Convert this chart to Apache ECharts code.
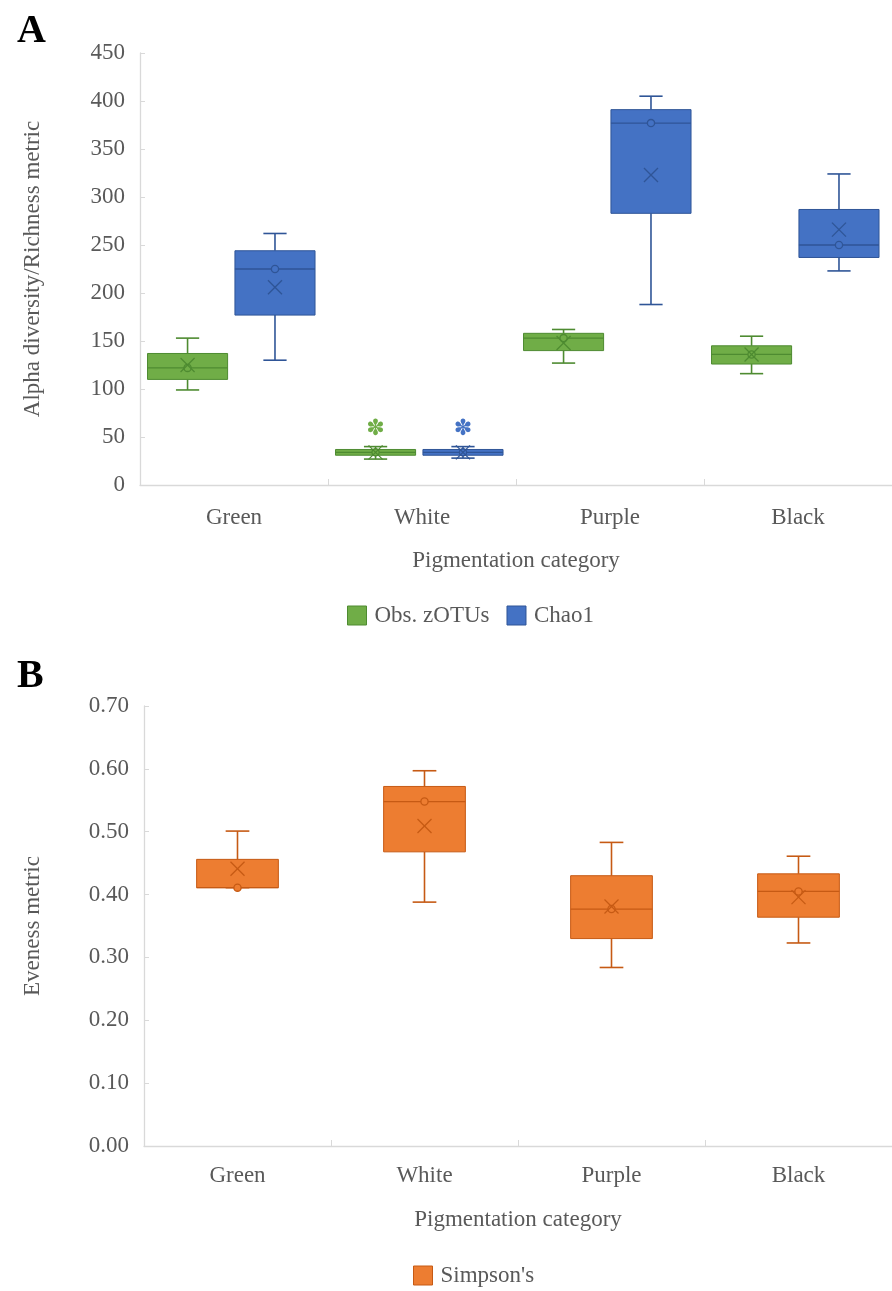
<!DOCTYPE html>
<html>
<head>
<meta charset="utf-8">
<script src="https://cdn.jsdelivr.net/npm/echarts@6/dist/echarts.min.js"></script>
<style>
  html, body { margin: 0; padding: 0; background: #fff; }
  #chart { width: 892px; height: 1291px; }
</style>
</head>
<body>
<div id="chart"></div>
<script>
// Pigmentation groups
const categories = ['Green', 'White', 'Purple', 'Black'];

// Richness: [min, Q1, median, Q3, max] per group
const obsBox = [[99, 110, 122, 137, 153], [27, 31, 34, 37, 40], [127, 140, 153, 158, 162], [116, 126, 136, 145, 155]];
const obsMean = [125, 34, 148, 136];
const obsPoint = [122, 34, 153, 136];
const chaoBox = [[130, 177, 225, 244, 262], [28, 31, 34, 37, 40], [188, 283, 377, 391, 405], [223, 237, 250, 287, 324]];
const chaoMean = [206, 34, 323, 266];
const chaoPoint = [225, 34, 377, 250];
const obsSig = ['', '✽', '', ''];
const chaoSig = ['', '✽', '', ''];

// Evenness: [min, Q1, median, Q3, max] per group
const simpsonBox = [[0.411, 0.411, 0.411, 0.456, 0.501], [0.388, 0.468, 0.548, 0.572, 0.597], [0.284, 0.330, 0.377, 0.430, 0.483], [0.323, 0.364, 0.405, 0.433, 0.461]];
const simpsonMean = [0.441, 0.509, 0.381, 0.396];
const simpsonPoint = [0.411, 0.548, 0.377, 0.405];
const simpsonSig = ['', '', '', ''];

// Value axis ranges
const richnessAxis = { min: 0, max: 450, interval: 50 };
const evennessAxis = { min: 0, max: 0.7, interval: 0.1 };

const FONT = '"Liberation Serif", "Times New Roman", serif';
const FS = 23;
const TXT = '#595959';
const GREEN = '#70AD47', GREEN_D = '#4E8B31';
const BLUE = '#4472C4', BLUE_D = '#2F5597';
const ORANGE = '#ED7D31', ORANGE_D = '#C65A14';

function rows(box, mean, point) {
  return categories.map((_, i) => [i].concat(box[i], [mean[i], point[i]]));
}

// Excel-style box: whiskers with caps, box, median line, inner point circle, mean cross
function boxRenderer(offset, widthFrac, fill, dark, sig) {
  return function (params, api) {
    const c = api.value(0);
    const band = api.size([1, 0])[0];
    const cx = api.coord([c, 0])[0] + offset * band;
    const w = widthFrac * band;
    const cap = w * 0.145;
    const Y = (v) => api.coord([c, v])[1];
    const yMin = Y(api.value(1)), yQ1 = Y(api.value(2)), yMed = Y(api.value(3));
    const yQ3 = Y(api.value(4)), yMax = Y(api.value(5));
    const yMean = Y(api.value(6)), yPt = Y(api.value(7));
    const ls = { stroke: dark, lineWidth: 1.6 };
    const m = 7;
    const children = [
      { type: 'line', shape: { x1: cx, y1: yMax, x2: cx, y2: yQ3 }, style: ls },
      { type: 'line', shape: { x1: cx, y1: yQ1, x2: cx, y2: yMin }, style: ls },
      { type: 'line', shape: { x1: cx - cap, y1: yMax, x2: cx + cap, y2: yMax }, style: ls },
      { type: 'line', shape: { x1: cx - cap, y1: yMin, x2: cx + cap, y2: yMin }, style: ls },
      { type: 'rect', shape: { x: cx - w / 2, y: yQ3, width: w, height: Math.max(yQ1 - yQ3, 1) },
        style: { fill: fill, stroke: dark, lineWidth: 1 } },
      { type: 'line', shape: { x1: cx - w / 2, y1: yMed, x2: cx + w / 2, y2: yMed }, style: { stroke: dark, lineWidth: 1.3 } },
      { type: 'circle', shape: { cx: cx, cy: yPt, r: 3.6 }, style: { fill: fill, stroke: dark, lineWidth: 1.3 } },
      { type: 'line', shape: { x1: cx - m, y1: yMean - m, x2: cx + m, y2: yMean + m }, style: { stroke: dark, lineWidth: 1.3 } },
      { type: 'line', shape: { x1: cx - m, y1: yMean + m, x2: cx + m, y2: yMean - m }, style: { stroke: dark, lineWidth: 1.3 } }
    ];
    const s = sig[params.dataIndex];
    if (s) {
      children.push({ type: 'text', style: { text: s, x: cx, y: yMax - 17, fill: fill,
        font: '22px "DejaVu Sans"', align: 'center', verticalAlign: 'middle' } });
    }
    return { type: 'group', children: children };
  };
}

function catAxis(gridIndex, margin, gap) {
  return {
    type: 'category', gridIndex: gridIndex, data: categories,
    name: 'Pigmentation category', nameLocation: 'middle', nameGap: gap,
    nameTextStyle: { fontFamily: FONT, fontSize: FS, color: TXT },
    axisLine: { lineStyle: { color: '#D9D9D9', width: 1.3 } },
    axisTick: { show: true, inside: true, length: 6, lineStyle: { color: '#D9D9D9' } },
    axisLabel: { fontFamily: FONT, fontSize: FS, color: TXT, margin: margin },
    splitLine: { show: false }
  };
}

function valAxis(gridIndex, range, name, gap, fmt) {
  return {
    type: 'value', gridIndex: gridIndex, min: range.min, max: range.max, interval: range.interval,
    name: name, nameLocation: 'middle', nameGap: gap,
    nameTextStyle: { fontFamily: FONT, fontSize: FS, color: TXT },
    axisLine: { show: true, lineStyle: { color: '#D9D9D9', width: 1.3 } },
    axisTick: { show: true, inside: true, length: 5, lineStyle: { color: '#D9D9D9' } },
    axisLabel: { fontFamily: FONT, fontSize: FS, color: TXT, margin: 15, formatter: fmt },
    splitLine: { show: false }
  };
}

const legendText = { fontFamily: FONT, fontSize: FS, color: TXT, padding: [0, 0, 0, 3] };

const option = {
  backgroundColor: '#fff',
  animation: false,
  title: [
    { text: 'A', left: 12, top: 7, textStyle: { fontFamily: FONT, fontSize: 40, fontWeight: 'bold', color: '#000' } },
    { text: 'B', left: 12, top: 652, textStyle: { fontFamily: FONT, fontSize: 40, fontWeight: 'bold', color: '#000' } }
  ],
  grid: [
    { left: 140, top: 53, width: 760, height: 432 },
    { left: 144, top: 706, width: 760, height: 440 }
  ],
  xAxis: [catAxis(0, 21, 64), catAxis(1, 18, 62)],
  yAxis: [
    valAxis(0, richnessAxis, 'Alpha diversity/Richness metric', 96, (v) => String(v)),
    valAxis(1, evennessAxis, 'Eveness metric', 100, (v) => v.toFixed(2))
  ],
  legend: [
    { top: 599, left: 342, itemWidth: 19, itemHeight: 19, itemGap: 17, textStyle: legendText,
      data: [
        { name: 'Obs. zOTUs', icon: 'rect', itemStyle: { color: GREEN, borderColor: GREEN_D, borderWidth: 1 } },
        { name: 'Chao1', icon: 'rect', itemStyle: { color: BLUE, borderColor: BLUE_D, borderWidth: 1 } }
      ] },
    { top: 1259, left: 408, itemWidth: 19, itemHeight: 19, textStyle: legendText,
      data: [
        { name: "Simpson's", icon: 'rect', itemStyle: { color: ORANGE, borderColor: ORANGE_D, borderWidth: 1 } }
      ] }
  ],
  series: [
    { name: 'Obs. zOTUs', type: 'custom', xAxisIndex: 0, yAxisIndex: 0, clip: false,
      itemStyle: { color: GREEN }, encode: { x: 0, y: [1, 5] },
      renderItem: boxRenderer(-0.247, 0.426, GREEN, GREEN_D, obsSig), data: rows(obsBox, obsMean, obsPoint) },
    { name: 'Chao1', type: 'custom', xAxisIndex: 0, yAxisIndex: 0, clip: false,
      itemStyle: { color: BLUE }, encode: { x: 0, y: [1, 5] },
      renderItem: boxRenderer(0.218, 0.426, BLUE, BLUE_D, chaoSig), data: rows(chaoBox, chaoMean, chaoPoint) },
    { name: "Simpson's", type: 'custom', xAxisIndex: 1, yAxisIndex: 1, clip: false,
      itemStyle: { color: ORANGE }, encode: { x: 0, y: [1, 5] },
      renderItem: boxRenderer(0, 0.437, ORANGE, ORANGE_D, simpsonSig), data: rows(simpsonBox, simpsonMean, simpsonPoint) }
  ]
};

const chart = echarts.init(document.getElementById('chart'), null, { renderer: 'canvas' });
chart.setOption(option);
</script>
</body>
</html>
